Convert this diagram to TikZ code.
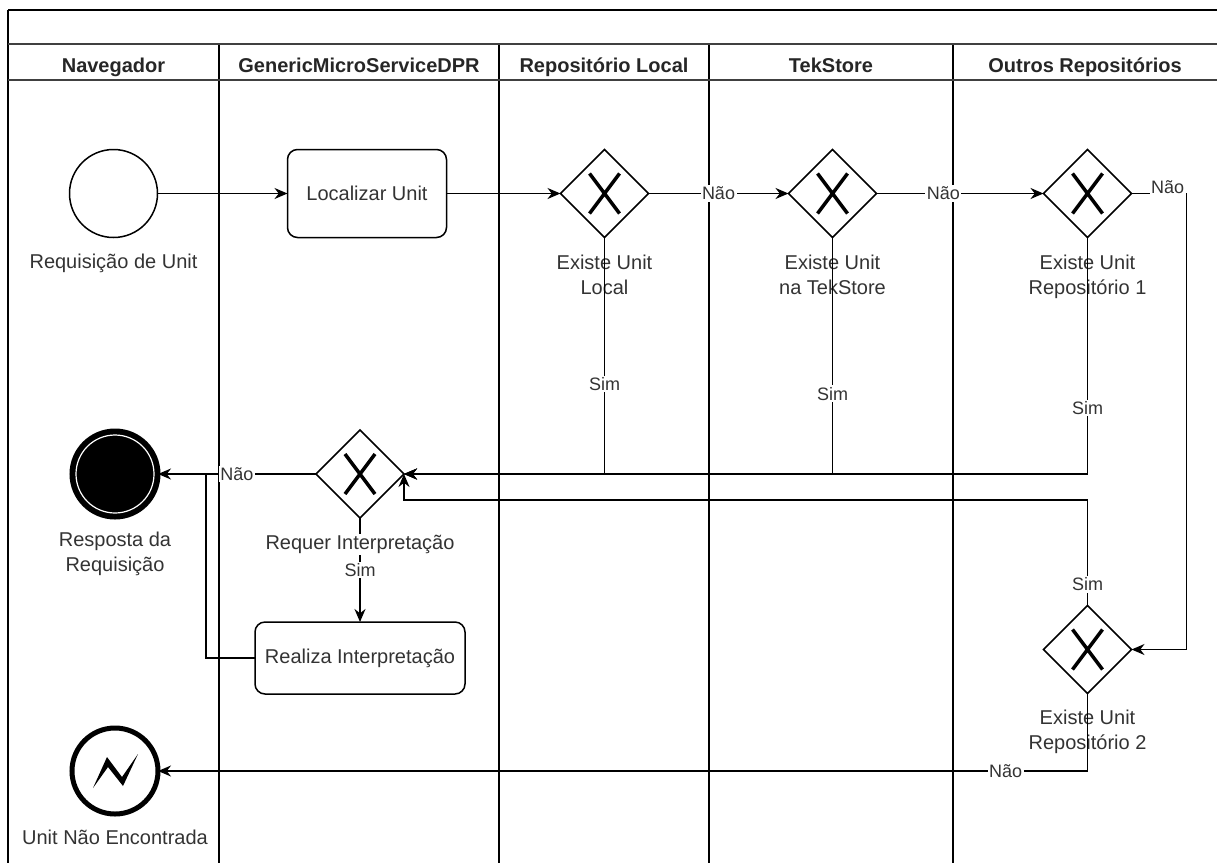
\documentclass[tikz,border=0pt]{standalone}
\usepackage{fontspec}
\setmainfont{Liberation Sans}
\usetikzlibrary{positioning,shapes.geometric,arrows.meta}

\begin{document}
\begin{tikzpicture}[x=1pt, y=-1pt, >={Stealth[length=13pt,width=11pt]},
        lane/.style={line width=1.5pt},
        bar/.style={line width=2.5pt, draw=black!75},
        lanetitle/.style={font=\fontsize{20}{24}\selectfont\bfseries, text=black!85, anchor=base},
        txt/.style={font=\fontsize{20}{25}\selectfont, text=black!80, align=center, inner sep=2pt},
        lbl/.style={font=\fontsize{18}{20}\selectfont, text=black!80, fill=white, inner sep=1.5pt},
        flow/.style={->, line width=1.5pt},
        event/.style={circle, draw, line width=1.5pt, minimum size=88pt, inner sep=0pt, outer sep=0pt},
        endevent/.style={event, fill=black, line width=5pt, minimum size=86pt,
            path picture={\draw[white, line width=1.2pt] (path picture bounding box.center) circle (39pt);}},
        errevent/.style={event, line width=5pt, minimum size=86pt,
            path picture={\fill[shift={(path picture bounding box.center)}]
                (-22pt,-17pt) -- (-8pt,14pt) -- (7pt,-6pt) -- (23pt,17pt) -- (8pt,-15pt) -- (-7pt,4pt) -- cycle;}},
        task/.style={txt, draw=black, rounded corners=10pt, line width=1.5pt, outer sep=0pt},
        gateway/.style={diamond, aspect=1, draw, line width=1.5pt, minimum width=88pt, minimum height=88pt,
            inner sep=0pt, outer sep=0pt,
            path picture={\draw[line width=3.5pt, shift={(path picture bounding box.center)}]
                (-15pt,-20pt) -- (15pt,20pt) (-15pt,20pt) -- (15pt,-20pt);}}
    ]
        \useasboundingbox (0,0) rectangle (1217,863);

        % pool and lanes
        \draw[lane] (8,10) -- (1217,10);
        \draw[lane] (8,10) -- (8,863);
        \draw[lane] (219,44) -- (219,863);
        \draw[lane] (499,44) -- (499,863);
        \draw[lane] (709,44) -- (709,863);
        \draw[lane] (953,44) -- (953,863);
        \draw[bar] (8,44) -- (1217,44);
        \draw[bar] (8,80) -- (1217,80);
        \node[lanetitle] (navegador) at (113.5,72) {Navegador};
        \node[lanetitle] (micro) at (359,72) {GenericMicroServiceDPR};
        \node[lanetitle] (local) at (604,72) {Repositório Local};
        \node[lanetitle] (tekstore) at (831,72) {TekStore};
        \node[lanetitle] (outros) at (1085,72) {Outros Repositórios};

        % events, tasks, gateways
        \node[event] (start) at (113.5,193.5) {};
        \node[txt, below=14pt of start] (startlbl) {Requisição de Unit};
        \node[task, minimum width=159pt, minimum height=88pt, right=130pt of start] (locate) {Localizar Unit};
        \node[gateway, right=114pt of locate] (g1) {};
        \node[gateway, right=140pt of g1] (g2) {};
        \node[gateway, right=167pt of g2] (g3) {};
        \node[gateway, below=368pt of g3] (g4) {};
        \node[txt, below=15pt of g1] (g1lbl) {Existe Unit\\Local};
        \node[txt, below=15pt of g2] (g2lbl) {Existe Unit\\na TekStore};
        \node[txt, below=15pt of g3] (g3lbl) {Existe Unit\\Repositório 1};
        \node[txt, below=14pt of g4] (g4lbl) {Existe Unit\\Repositório 2};
        \node[gateway] (req) at (360,474) {};
        \node[endevent, left=158pt of req] (resp) {};
        \node[txt, below=13pt of resp] (resplbl) {Resposta da\\Requisição};
        \node[task, minimum width=210pt, minimum height=72pt, below=104pt of req] (realize) {Realiza Interpretação};
        \node[errevent, below=211pt of resp] (notfound) {};
        \node[txt, below=14pt of notfound] (notfoundlbl) {Unit Não Encontrada};

        % flows
        \draw[flow] (start) -- (locate);
        \draw[flow] (locate) -- (g1);
        \draw[flow] (g1) -- node[lbl] {Não} (g2);
        \draw[flow] (g2) -- node[lbl, pos=0.4] {Não} (g3);
        \draw[flow] (g3.east) -- ++(55,0) |- (g4.east);
        \node[lbl, inner ysep=5pt] at ([xshift=36pt, yshift=6pt]g3.east) {Não};
        \draw[flow] (g1.south) |- node[lbl, pos=0.31] {Sim} (req.east);
        \draw[flow] (g2.south) |- node[lbl, pos=0.33] {Sim} (req.east);
        \draw[flow] (g3.south) |- node[lbl, pos=0.36] {Sim} (req.east);
        \draw[flow] (g4.north) |- node[lbl, pos=0.1] {Sim} ([yshift=-26pt]req.east) -- (req.east);
        \draw[flow] (req) -- node[lbl] {Não} (resp);
        \draw[flow] (req) -- node[lbl, pos=0.5] {Sim} (realize);
        \node[txt, fill=white, inner sep=1pt, below=16pt of req] (reqlbl) {Requer Interpretação};
        \draw[line width=1.5pt] (realize.west) -| ([xshift=48pt]resp.east);
        \draw[flow] (g4.south) |- node[lbl, pos=0.544] {Não} (notfound.east);
    \end{tikzpicture}
\end{document}
